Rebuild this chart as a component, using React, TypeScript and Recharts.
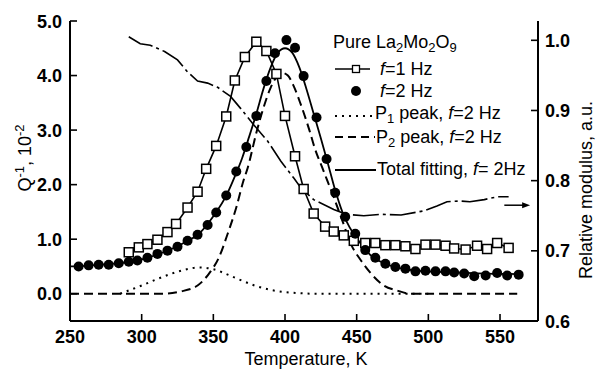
import React from 'react'
import { ComposedChart, Line, XAxis, YAxis, ReferenceLine } from 'recharts'

// internal friction, f = 1 Hz (open squares)
const f1Temps = [291, 298, 304, 311, 318, 324, 332, 339, 345, 352, 359, 365, 372, 380, 387, 394, 400, 407, 413, 420, 428, 434, 441, 448, 456, 463, 470, 477, 484, 491, 498, 505, 512, 518, 526, 534, 541, 548, 556]
const f1Q = [0.76, 0.85, 0.91, 0.99, 1.13, 1.28, 1.58, 1.87, 2.29, 2.71, 3.25, 3.91, 4.34, 4.62, 4.45, 4.03, 3.26, 2.52, 1.92, 1.47, 1.23, 1.14, 1.07, 0.97, 0.93, 0.93, 0.89, 0.89, 0.87, 0.82, 0.9, 0.9, 0.88, 0.83, 0.81, 0.88, 0.82, 0.93, 0.84]

// internal friction, f = 2 Hz (filled circles)
const f2Temps = [256, 263, 270, 277, 284, 291, 297, 304, 311, 318, 325, 332, 339, 346, 352, 359, 366, 373, 380, 387, 393, 401, 407, 413, 422, 429, 435, 442, 449, 456, 463, 470, 477, 484, 491, 498, 505, 512, 518, 525, 532, 540, 548, 555, 563]
const f2Q = [0.5, 0.52, 0.53, 0.53, 0.56, 0.585, 0.61, 0.66, 0.73, 0.79, 0.86, 0.97, 1.08, 1.26, 1.49, 1.8, 2.24, 2.69, 3.26, 3.9, 4.41, 4.65, 4.51, 3.99, 3.23, 2.47, 1.85, 1.41, 1.1, 0.8, 0.66, 0.55, 0.49, 0.46, 0.41, 0.42, 0.41, 0.41, 0.39, 0.37, 0.32, 0.335, 0.38, 0.335, 0.35]

// total fit for f = 2 Hz
const fitTemps = [250, 260, 270, 280, 290, 300, 310, 320, 330, 340, 350, 360, 365, 370, 375, 380, 385, 390, 395, 400, 405, 410, 415, 420, 425, 430, 435, 440, 445, 450, 455, 460, 470, 480, 490, 500, 520, 540, 563]
const fitQ = [0.5, 0.51, 0.53, 0.55, 0.58, 0.63, 0.71, 0.81, 0.94, 1.1, 1.42, 1.85, 2.15, 2.48, 2.88, 3.3, 3.76, 4.15, 4.42, 4.5, 4.42, 4.15, 3.75, 3.3, 2.85, 2.38, 1.9, 1.5, 1.22, 1.02, 0.84, 0.7, 0.55, 0.47, 0.43, 0.41, 0.39, 0.37, 0.36]

// P1 peak component
const p1Temps = [285, 290, 300, 310, 320, 330, 340, 350, 360, 370, 380, 390, 400, 410, 420, 440, 460, 480, 500]
const p1Q = [0, 0.05, 0.15, 0.26, 0.36, 0.44, 0.48, 0.45, 0.35, 0.24, 0.14, 0.07, 0.03, 0.01, 0, 0, 0, 0, 0]

// P2 peak component
const p2Temps = [250, 280, 300, 315, 327, 339, 347, 354, 360, 366, 371, 374, 380, 385, 390, 395, 398, 402, 406, 411, 417, 421, 426, 434, 440, 446, 453, 460, 469, 478, 488, 520, 562]
const p2Q = [0, 0, 0, 0, 0.04, 0.15, 0.37, 0.67, 1.1, 1.58, 2.07, 2.31, 2.95, 3.41, 3.78, 4.0, 4.05, 4.0, 3.81, 3.47, 3.0, 2.65, 2.31, 1.77, 1.34, 0.91, 0.61, 0.37, 0.15, 0.06, 0, 0, 0]

// relative modulus (right axis)
const modTemps = [291, 299, 306, 316, 325, 332, 339, 346, 353, 362, 369, 378, 388, 397, 406, 411, 420, 434, 443, 455, 467, 481, 497, 506, 513, 522, 529, 539, 548, 556]
const modValues = [1.005, 0.995, 0.993, 0.984, 0.972, 0.955, 0.942, 0.939, 0.933, 0.92, 0.903, 0.88, 0.856, 0.828, 0.804, 0.79, 0.773, 0.759, 0.752, 0.75, 0.752, 0.751, 0.757, 0.764, 0.77, 0.771, 0.77, 0.773, 0.777, 0.777]

const xTicks = [250, 300, 350, 400, 450, 500, 550]
const qTicks = [0, 1, 2, 3, 4, 5]
const modTicks = [0.6, 0.7, 0.8, 0.9, 1.0]

// arrow pointing at the modulus axis
const arrowFrom = 553
const arrowTo = 571
const arrowLevel = 0.765

const zip = (ts: number[], vs: number[], key: string) => ts.map((T, i) => ({ T, [key]: vs[i] }))

const f1Data = zip(f1Temps, f1Q, 'Q')
const f2Data = zip(f2Temps, f2Q, 'Q')
const fitData = zip(fitTemps, fitQ, 'Q')
const p1Data = zip(p1Temps, p1Q, 'Q')
const p2Data = zip(p2Temps, p2Q, 'Q')
const modData = zip(modTemps, modValues, 'M')

const FONT = "'Liberation Sans', Arial, sans-serif"
const xDomain = [250, 576.5]

function BottomTick({ x, y, payload }: any) {
  return (
    <g>
      <line x1={x} y1={y} x2={x} y2={y - 7} stroke="#000" strokeWidth={1.6} />
      <text x={x} y={y + 22} textAnchor="middle" fontSize={18} fontWeight="bold" fontFamily={FONT} fill="#000">
        {payload.value}
      </text>
    </g>
  )
}

function LeftTick({ x, y, payload }: any) {
  return (
    <g>
      <line x1={x} y1={y} x2={x + 7} y2={y} stroke="#000" strokeWidth={1.6} />
      <text x={x - 8} y={y + 6.5} textAnchor="end" fontSize={18} fontWeight="bold" fontFamily={FONT} fill="#000">
        {payload.value.toFixed(1)}
      </text>
    </g>
  )
}

function RightTick({ x, y, payload }: any) {
  return (
    <g>
      <line x1={x} y1={y} x2={x - 7} y2={y} stroke="#000" strokeWidth={1.6} />
      <text x={x + 7} y={y + 6.5} textAnchor="start" fontSize={18} fontWeight="bold" fontFamily={FONT} fill="#000">
        {payload.value.toFixed(1)}
      </text>
    </g>
  )
}

const squareDot = (p: any) => (
  <rect key={`sq-${p.index}`} x={p.cx - 4.5} y={p.cy - 4.5} width={9} height={9} fill="#fff" stroke="#000" strokeWidth={1.5} />
)
const circleDot = (p: any) => <circle key={`ci-${p.index}`} cx={p.cx} cy={p.cy} r={5} fill="#000" />

const arrowShape = (p: any) => (
  <g>
    <line x1={p.x1} y1={p.y1} x2={p.x2 - 6} y2={p.y2} stroke="#000" strokeWidth={1.5} />
    <polygon points={`${p.x2},${p.y2} ${p.x2 - 8},${p.y2 - 3} ${p.x2 - 8},${p.y2 + 3}`} fill="#000" />
  </g>
)

// legend and axis titles
function Overlay() {
  return (
    <svg width={596} height={370} style={{ position: 'absolute', left: 0, top: 0, pointerEvents: 'none' }}
      fontFamily={FONT} fontSize={18} fill="#000">
      <text x={333} y={48}>
        Pure La<tspan fontSize={13} dy={4}>2</tspan><tspan dy={-4}>Mo</tspan>
        <tspan fontSize={13} dy={4}>2</tspan><tspan dy={-4}>O</tspan><tspan fontSize={13} dy={4}>9</tspan>
      </text>

      <line x1={335} y1={69} x2={370} y2={69} stroke="#000" strokeWidth={1.6} />
      <rect x={352.5} y={65.5} width={7} height={7} fill="#fff" stroke="#000" strokeWidth={1.3} />
      <text x={380} y={75}><tspan fontStyle="italic">f</tspan>=1 Hz</text>

      <circle cx={356} cy={91} r={5} fill="#000" />
      <text x={380} y={97}><tspan fontStyle="italic">f</tspan>=2 Hz</text>

      <line x1={335} y1={116} x2={372} y2={116} stroke="#000" strokeWidth={2} strokeDasharray="2 5" />
      <text x={375} y={119}>
        P<tspan fontSize={13} dy={4}>1</tspan><tspan dy={-4}> peak, </tspan><tspan fontStyle="italic">f</tspan>=2 Hz
      </text>

      <line x1={335} y1={137} x2={375} y2={137} stroke="#000" strokeWidth={2} strokeDasharray="8 5" />
      <text x={376} y={143}>
        P<tspan fontSize={13} dy={4}>2</tspan><tspan dy={-4}> peak, </tspan><tspan fontStyle="italic">f</tspan>=2 Hz
      </text>

      <line x1={335} y1={170} x2={376} y2={170} stroke="#000" strokeWidth={1.8} />
      <text x={377} y={175}>Total fitting, <tspan fontStyle="italic">f</tspan>= 2Hz</text>

      <text x={306} y={365} textAnchor="middle">Temperature, K</text>
      <text transform="translate(31,158) rotate(-90)" textAnchor="middle">
        Q<tspan fontSize={13} dy={-7}>-1</tspan><tspan dy={7}>, 10</tspan><tspan fontSize={13} dy={-7}>-2</tspan>
      </text>
      <text transform="translate(592,190) rotate(-90)" textAnchor="middle">Relative modulus, a.u.</text>
    </svg>
  )
}

export default function App(): JSX.Element {
  return (
    <div style={{ position: 'absolute', left: 0, top: 0, width: 596, height: 370, background: '#fff', fontFamily: FONT }}>
      <ComposedChart width={596} height={370} margin={{ top: 21, right: 0, bottom: 0, left: 0 }}>
        <XAxis xAxisId="bottom" dataKey="T" type="number" domain={xDomain} ticks={xTicks} interval={0}
          allowDataOverflow height={49} tickSize={0} tickMargin={0} tickLine={false}
          axisLine={{ stroke: '#000', strokeWidth: 2 }} tick={<BottomTick />} />
        <XAxis xAxisId="top" dataKey="T" orientation="top" type="number" domain={xDomain} allowDataOverflow
          height={0} tick={false} tickLine={false} axisLine={{ stroke: '#000', strokeWidth: 2 }} />
        <YAxis yAxisId="left" type="number" domain={[-0.5, 5]} ticks={qTicks} interval={0} allowDataOverflow
          width={70} tickSize={0} tickMargin={0} tickLine={false}
          axisLine={{ stroke: '#000', strokeWidth: 2 }} tick={<LeftTick />} />
        <YAxis yAxisId="right" orientation="right" type="number" domain={[0.6, 1.0275]} ticks={modTicks} interval={0}
          allowDataOverflow width={58} tickSize={0} tickMargin={0} tickLine={false}
          axisLine={{ stroke: '#000', strokeWidth: 2 }} tick={<RightTick />} />

        <Line xAxisId="bottom" yAxisId="left" data={p1Data} dataKey="Q" type="monotone" stroke="#000"
          strokeWidth={2} strokeDasharray="2 5" dot={false} isAnimationActive={false} />
        <Line xAxisId="bottom" yAxisId="left" data={p2Data} dataKey="Q" type="monotone" stroke="#000"
          strokeWidth={2} strokeDasharray="9 5" dot={false} isAnimationActive={false} />
        <Line xAxisId="bottom" yAxisId="right" data={modData} dataKey="M" type="linear" stroke="#000"
          strokeWidth={1.6} strokeDasharray="26 4 3 4" dot={false} isAnimationActive={false} />
        <Line xAxisId="bottom" yAxisId="left" data={fitData} dataKey="Q" type="monotone" stroke="#000"
          strokeWidth={1.8} dot={false} isAnimationActive={false} />
        <Line xAxisId="bottom" yAxisId="left" data={f1Data} dataKey="Q" type="linear" stroke="#000"
          strokeWidth={1.6} dot={squareDot} isAnimationActive={false} />
        <Line xAxisId="bottom" yAxisId="left" data={f2Data} dataKey="Q" stroke="none"
          dot={circleDot} isAnimationActive={false} />

        <ReferenceLine xAxisId="bottom" yAxisId="right" ifOverflow="visible"
          segment={[{ x: arrowFrom, y: arrowLevel }, { x: arrowTo, y: arrowLevel }]}
          stroke="#000" shape={arrowShape} />
      </ComposedChart>
      <Overlay />
    </div>
  )
}
